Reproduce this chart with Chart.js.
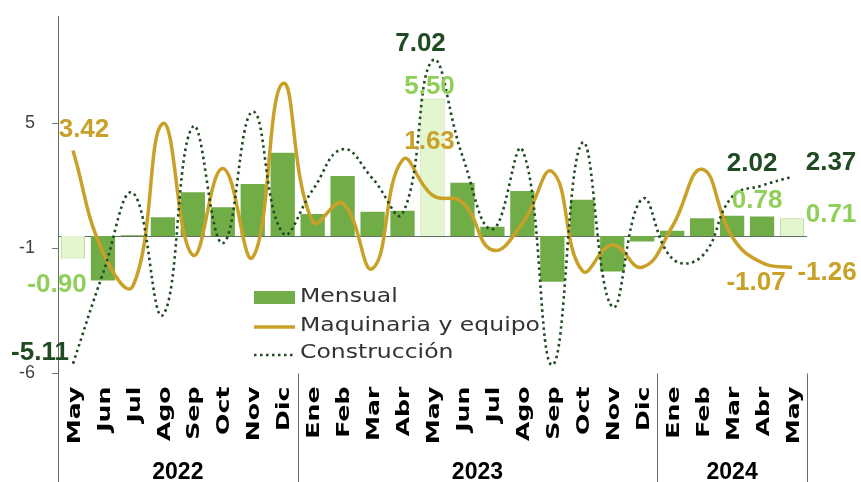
<!DOCTYPE html>
<html lang="es">
<head>
<meta charset="UTF-8">
<title>Mensual, Maquinaria y equipo, Construcción</title>
<script src="https://cdn.jsdelivr.net/npm/chart.js@4.4.1/dist/chart.umd.min.js"></script>
<style>
  html, body { margin: 0; padding: 0; background: #fff; }
  #wrap { position: relative; width: 861px; height: 482px; }
</style>
</head>
<body>
<div id="wrap"><canvas id="chart" width="861" height="482"></canvas></div>
<script>
// categories
const months = ['May','Jun','Jul','Ago','Sep','Oct','Nov','Dic',
                'Ene','Feb','Mar','Abr','May','Jun','Jul','Ago','Sep','Oct','Nov','Dic',
                'Ene','Feb','Mar','Abr','May'];
const years = ['2022', '2023', '2024'];
const yearSpans = [8, 12, 5];

// series (%)
const mensual = [-0.90, -1.78, 0.03, 0.75, 1.75, 1.15, 2.08, 3.33,
                 0.88, 2.40, 0.97, 1.01, 5.50, 2.13, 0.37, 1.80, -1.83, 1.45, -1.42, -0.22,
                 0.21, 0.71, 0.81, 0.78, 0.71];
const maquinaria = [3.42, -0.65, -2.00, 4.50, -0.76, 2.70, -0.85, 6.10,
                    0.57, 1.31, -1.30, 3.04, 1.63, 1.35, -0.56, 0.50, 2.57, -1.39, -0.36, -1.25,
                    0.37, 2.67, -0.03, -1.07, -1.26];
const construccion = [-5.11, -1.50, 1.72, -3.16, 4.37, -0.29, 4.97, 0.12,
                      1.84, 3.47, 2.30, 0.90, 7.02, 3.20, 0.27, 3.44, -5.16, 3.73, -2.83, 1.48,
                      -0.90, -0.80, 1.57, 2.02, 2.37];

// y axis ticks
const yTickValues = [-5.5, -0.5, 4.5];
const yTickLabels = ['-6', '-1', '5'];

const GREEN = '#70ad47', LIGHT = '#e4f6cf', LIGHT_EDGE = '#aed68c';
const GOLD = '#c9a128', DARK = '#1f4a22', LABEL_GREEN = '#8fcf5a';
const AXIS = '#5d735d';

// value labels: dataset index, point index, offset from the point
const valueLabels = [
  { ds: 0, i: 0,  dx: -16, dy: 26 },
  { ds: 1, i: 0,  dx: 11,  dy: -21 },
  { ds: 2, i: 0,  dx: -33, dy: -11 },
  { ds: 2, i: 12, dx: -12, dy: -17 },
  { ds: 0, i: 12, dx: -3,  dy: -12 },
  { ds: 1, i: 12, dx: -3,  dy: -53 },
  { ds: 2, i: 23, dx: -10, dy: -22 },
  { ds: 0, i: 23, dx: -5,  dy: -16 },
  { ds: 1, i: 23, dx: -6,  dy: 20 },
  { ds: 2, i: 24, dx: 39,  dy: -14 },
  { ds: 0, i: 24, dx: 39,  dy: -3 },
  { ds: 1, i: 24, dx: 35,  dy: 5 }
];
const labelColors = [LABEL_GREEN, GOLD, DARK];

// text stretched along its own direction (the original font is a wide one)
function wideText(ctx, text, x, y, k) {
  ctx.save();
  ctx.translate(x, y);
  ctx.scale(k, 1);
  ctx.fillText(text, 0, 0);
  ctx.restore();
}

const decor = {
  id: 'decor',
  beforeDatasetsDraw(chart) {
    const { ctx, chartArea, scales } = chart;
    const y0 = Math.round(scales.y.getPixelForValue(0)) + 0.5;
    ctx.save();
    ctx.strokeStyle = AXIS;
    ctx.lineWidth = 1.2;
    ctx.beginPath();
    ctx.moveTo(chartArea.left, y0);
    ctx.lineTo(chartArea.right, y0);
    ctx.stroke();
    ctx.restore();
  },
  afterDraw(chart) {
    const { ctx, chartArea, scales } = chart;
    const step = (chartArea.right - chartArea.left) / months.length;

    ctx.save();
    // month labels, rotated
    ctx.fillStyle = '#000';
    ctx.font = 'bold 18px "DejaVu Sans"';
    ctx.textAlign = 'right';
    ctx.textBaseline = 'middle';
    months.forEach((m, i) => {
      const px = scales.x.getPixelForTick(i);
      ctx.save();
      ctx.translate(px + 2, chartArea.bottom + 13);
      ctx.rotate(-Math.PI / 2);
      ctx.scale(1.4, 1);
      ctx.fillText(m, 0, 0);
      ctx.restore();
    });

    // year separators and year labels
    ctx.strokeStyle = AXIS;
    ctx.lineWidth = 1;
    let start = 0;
    const edges = [0];
    yearSpans.forEach(n => { start += n; edges.push(start); });
    edges.forEach(k => {
      const px = Math.round(chartArea.left + k * step) + 0.5;
      ctx.beginPath();
      ctx.moveTo(px, chartArea.bottom);
      ctx.lineTo(px, 482);
      ctx.stroke();
    });
    ctx.font = 'bold 23px "Liberation Sans"';
    ctx.textAlign = 'center';
    years.forEach((yr, j) => {
      const cx = chartArea.left + (edges[j] + edges[j + 1]) / 2 * step;
      ctx.fillText(yr, cx, 473);
    });

    // legend inside the plot
    const lx = 254, lw = 41;
    ctx.fillStyle = GREEN;
    ctx.fillRect(lx, 291, lw, 13);
    ctx.strokeStyle = GOLD;
    ctx.lineWidth = 3.5;
    ctx.beginPath(); ctx.moveTo(lx, 327); ctx.lineTo(lx + lw, 327); ctx.stroke();
    ctx.strokeStyle = DARK;
    ctx.lineWidth = 2.6;
    ctx.setLineDash([2.5, 3.5]);
    ctx.beginPath(); ctx.moveTo(lx, 355); ctx.lineTo(lx + lw, 355); ctx.stroke();
    ctx.setLineDash([]);
    ctx.fillStyle = '#333';
    ctx.font = '19px "DejaVu Sans"';
    ctx.textAlign = 'left';
    const k = 240 / ctx.measureText('Maquinaria y equipo').width;
    wideText(ctx, 'Mensual', 300, 297, k);
    wideText(ctx, 'Maquinaria y equipo', 300, 326, k);
    wideText(ctx, 'Construcción', 300, 353, k);

    // value labels
    ctx.font = 'bold 26px "Liberation Sans"';
    ctx.textAlign = 'center';
    valueLabels.forEach(l => {
      const el = chart.getDatasetMeta(l.ds).data[l.i];
      const v = chart.data.datasets[l.ds].data[l.i];
      ctx.fillStyle = labelColors[l.ds];
      ctx.fillText(v.toFixed(2), el.x + l.dx, el.y + l.dy);
    });
    ctx.restore();
  }
};

new Chart(document.getElementById('chart'), {
  data: {
    labels: months,
    datasets: [
      {
        type: 'bar',
        label: 'Mensual',
        data: mensual,
        backgroundColor: months.map(m => m === 'May' ? LIGHT : GREEN),
        borderColor: months.map(m => m === 'May' ? LIGHT_EDGE : GREEN),
        borderWidth: months.map(m => m === 'May' ? 1 : 0),
        barPercentage: 0.81,
        categoryPercentage: 1,
        order: 3
      },
      {
        type: 'line',
        label: 'Maquinaria y equipo',
        data: maquinaria,
        borderColor: GOLD,
        borderWidth: 3.5,
        tension: 0.45,
        pointRadius: 0,
        fill: false,
        order: 2
      },
      {
        type: 'line',
        label: 'Construcción',
        data: construccion,
        borderColor: DARK,
        borderWidth: 2.6,
        borderDash: [2.5, 3.5],
        tension: 0.45,
        pointRadius: 0,
        fill: false,
        order: 1
      }
    ]
  },
  options: {
    responsive: false,
    animation: false,
    devicePixelRatio: 1,
    layout: { padding: { top: 16, right: 54, bottom: 0, left: 0 } },
    plugins: { legend: { display: false }, tooltip: { enabled: false } },
    scales: {
      x: {
        offset: true,
        afterFit: s => { s.height = 482 - 373.5; s.paddingLeft = 0; s.paddingRight = 0; },
        ticks: { display: false },
        grid: { display: false, drawTicks: false },
        border: { display: false }
      },
      y: {
        min: -5.5,
        max: 8.8,
        afterBuildTicks: s => { s.ticks = yTickValues.map(v => ({ value: v })); },
        afterFit: s => { s.width = 58; s.paddingTop = 0; s.paddingBottom = 0; },
        ticks: {
          callback: (v, i) => yTickLabels[i],
          padding: 17,
          color: '#404040',
          font: { family: 'Liberation Sans', size: 18 }
        },
        grid: { drawOnChartArea: false, drawTicks: true, tickLength: 6, color: '#777' },
        border: { display: true, color: AXIS, width: 1 }
      }
    }
  },
  plugins: [decor]
});
</script>
</body>
</html>
